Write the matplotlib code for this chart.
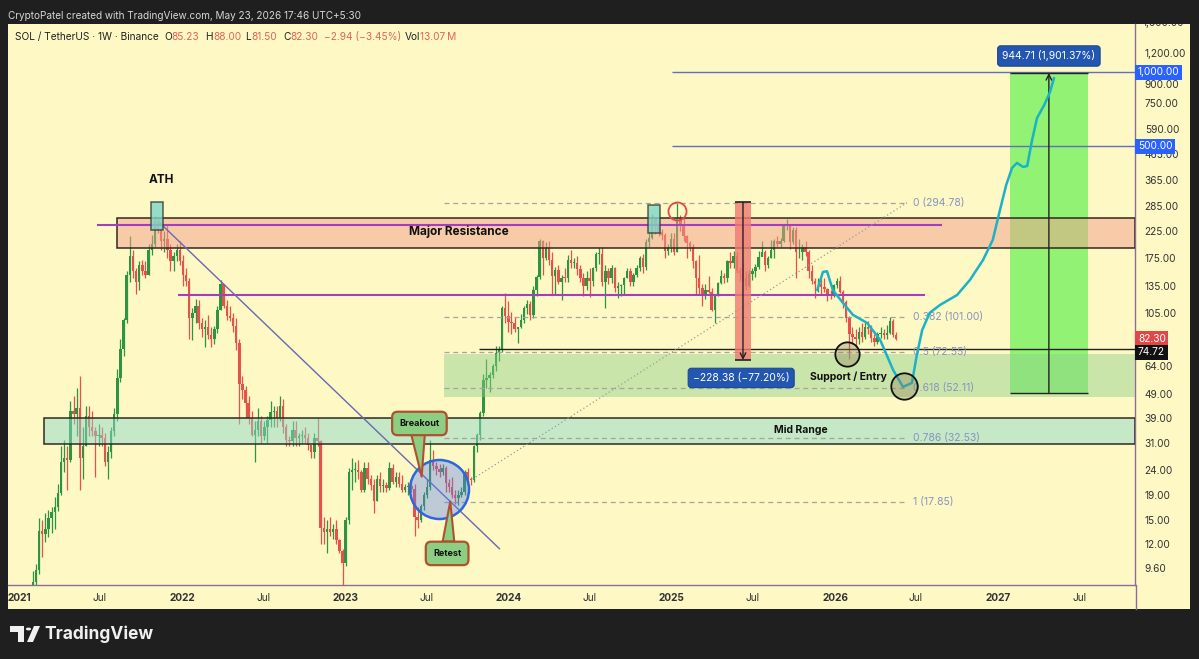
import numpy as np
import pandas as pd
import matplotlib
matplotlib.use('Agg')
import matplotlib.pyplot as plt
import matplotlib.dates as mdates
import matplotlib.transforms as mtrans
from matplotlib.patches import Rectangle, Polygon, Circle
from matplotlib.ticker import NullLocator

plt.rcParams['font.family'] = ['Inter', 'DejaVu Sans']

# ---------------- data (weekly SOL/USDT) ----------------
first_open = 1.8
# (high, low, close) per weekly candle, weeks starting Monday 2021-01-04
sol_2021 = [(3.9, 1.8, 3.4), (4.1, 2.9, 3.3), (3.9, 2.9, 3.7), (4.5, 3.3, 4.2), (9.3, 4.0, 8.4),
            (10.0, 7.6, 9.4), (15.4, 9.1, 13.6), (15.0, 10.6, 13.2), (16.0, 12.2, 13.8), (16.5, 12.8, 15.3),
            (17.0, 13.3, 16.2), (18.6, 13.8, 17.0), (21.0, 16.4, 19.4), (30.0, 19.0, 25.8), (32.0, 23.5, 27.0),
            (30.0, 20.0, 26.5), (46.0, 26.0, 42.0), (48.0, 37.0, 40.5), (52.0, 33.0, 43.0), (58.0, 20.0, 27.0),
            (36.0, 22.0, 30.0), (44.0, 30.0, 40.0), (44.0, 33.0, 36.0), (42.0, 33.0, 34.5), (36.0, 22.5, 33.0),
            (37.0, 30.0, 33.5), (36.0, 30.0, 32.5), (34.0, 25.0, 26.0), (30.0, 22.0, 28.5), (36.0, 27.0, 34.5),
            (43.0, 33.0, 40.5), (62.0, 38.0, 57.0), (82.0, 55.0, 75.0), (100.0, 70.0, 98.0), (155.0, 95.0, 150.0),
            (216.0, 140.0, 178.0), (190.0, 145.0, 155.0), (160.0, 125.0, 140.0), (170.0, 130.0, 165.0),
            (172.0, 150.0, 155.0), (170.0, 145.0, 150.0), (200.0, 150.0, 190.0), (218.0, 180.0, 200.0),
            (260.0, 195.0, 245.0), (258.0, 222.0, 228.0), (235.0, 190.0, 205.0), (225.0, 185.0, 210.0),
            (240.0, 175.0, 190.0), (200.0, 155.0, 170.0), (185.0, 155.0, 178.0), (200.0, 170.0, 190.0),
            (205.0, 165.0, 170.0)]
sol_2022 = [(180, 135, 150), (160, 135, 141), (145, 82, 100), (110, 81, 105), (120, 95, 112),
            (118, 90, 95), (100, 84, 90), (98, 76, 92), (103, 82, 85), (92, 76, 82),
            (93, 78, 90), (112, 87, 108), (143, 108, 138), (138, 110, 112), (118, 98, 102),
            (112, 97, 100), (105, 88, 93), (100, 74, 79), (82, 37, 54), (58, 47, 51),
            (53, 39, 45), (48, 37, 39), (42, 33, 33.5), (38, 26, 35), (43, 33, 38),
            (40, 31, 33), (38, 32, 36), (40, 31, 38.5), (46, 36, 41.5), (44, 36, 42),
            (44, 36, 39), (48, 38, 44), (47, 34, 36), (37, 30, 32), (33, 30, 31.5),
            (38, 30, 35), (38, 30, 32.5), (34, 30, 33), (35, 31, 33.5), (36, 31, 32.5),
            (34, 29, 30.5), (30.5, 27, 28.5), (34, 27, 32.5), (39, 30, 31.5), (32, 12, 14),
            (15.5, 12, 13.5), (15, 11, 13.8), (15.5, 13, 13.4), (14.5, 12.6, 13.8), (15, 12, 12.5),
            (12.6, 11, 11.3), (11.5, 8, 10.1)]
sol_2023 = [(15.5, 9.8, 15.0), (24.5, 14.5, 23.5), (27, 20, 24), (26, 21.5, 24), (26.5, 22, 23.5),
            (24, 19.5, 20), (26, 19.5, 24.5), (26, 21, 22), (23, 20, 20.8), (22, 16, 18),
            (23, 18, 22), (23.5, 19.5, 20.7), (22, 19.5, 20.8), (21.5, 19.5, 20.4), (26, 20, 24.5),
            (25.5, 21, 21.5), (23.5, 20.5, 22.5), (23.5, 20.5, 21), (23, 19.5, 20), (21, 19.5, 20.5),
            (21.5, 19, 20.6), (21.5, 19.5, 20.1), (21, 13, 15.5), (17, 14, 15), (17.5, 14.8, 17.2),
            (19.5, 16.5, 19), (22, 18.5, 20.5), (32, 20, 26.5), (29, 24, 25), (26, 23, 24.3),
            (25.5, 22.5, 23.5), (25.5, 23, 24.5), (25, 19.5, 21.2), (22, 19.5, 20.5), (22.5, 18.5, 19),
            (20, 17.5, 18.5), (20, 17.3, 19), (20.5, 18.6, 19.5), (24, 19, 23.5), (24.5, 21, 22),
            (22.5, 20.8, 21.8), (30.5, 21.5, 30), (34, 28.5, 33.5), (42, 32, 41), (59, 40, 56),
            (68, 52, 57), (60, 50, 58.5), (65, 57, 63.5), (77, 61, 72), (77, 67, 74),
            (112, 73, 110), (126, 95, 102)]
sol_2024 = [(117, 88, 96), (106, 86, 95), (101, 88, 90), (92, 79, 92), (104, 91, 98),
            (112, 95, 110), (118, 104, 114), (117, 98, 103), (135, 100, 130), (150, 123, 147),
            (210, 144, 205), (208, 150, 176), (204, 172, 195), (205, 165, 172), (185, 125, 148),
            (162, 125, 157), (165, 138, 140), (150, 118, 146), (160, 140, 145), (180, 140, 172),
            (190, 160, 168), (176, 160, 168), (178, 150, 158), (165, 140, 145), (152, 123, 135),
            (155, 130, 146), (160, 122, 141), (162, 135, 160), (185, 155, 182), (194, 166, 182),
            (195, 135, 140), (165, 110, 155), (160, 138, 145), (165, 139, 160), (162, 127, 133),
            (140, 121, 135), (138, 123, 136), (147, 125, 146), (160, 145, 155), (160, 135, 140),
            (152, 135, 149), (165, 147, 160), (179, 156, 175), (182, 152, 161), (210, 157, 203),
            (225, 195, 212), (264, 210, 255), (248, 220, 236), (245, 215, 223), (231, 208, 218),
            (222, 175, 188), (200, 180, 195), (222, 185, 210)]
sol_2025 = [(222, 180, 186), (295, 185, 255), (262, 225, 240), (255, 205, 215), (218, 176, 202),
            (205, 187, 195), (200, 160, 170), (172, 125, 145), (180, 125, 133), (138, 112, 125),
            (138, 120, 130), (148, 126, 128), (133, 107, 108), (125, 95, 125), (140, 123, 139),
            (157, 138, 148), (153, 139, 146), (172, 140, 171), (185, 160, 168), (188, 160, 178),
            (185, 152, 156), (162, 142, 152), (168, 141, 145), (156, 130, 135), (157, 134, 151),
            (160, 143, 155), (166, 147, 162), (187, 159, 177), (206, 178, 186), (190, 155, 164),
            (178, 160, 175), (208, 175, 190), (210, 175, 205), (215, 195, 201), (212, 195, 205),
            (242, 204, 237), (253, 228, 240), (242, 191, 204), (235, 200, 228), (235, 145, 185),
            (210, 175, 185), (200, 173, 195), (205, 178, 186), (190, 146, 156), (165, 137, 141),
            (145, 121, 137), (146, 128, 138), (145, 125, 134), (145, 128, 131), (132, 117, 125),
            (130, 119, 124), (138, 122, 136)]
sol_2026 = [(145, 133, 142), (148, 126, 128), (130, 110, 116), (118, 96, 100), (102, 68, 86),
            (92, 78, 84), (90, 76, 82), (92, 78, 88), (95, 80, 84), (96, 82, 92),
            (97, 86, 90), (94, 80, 83), (86, 77, 80), (88, 78, 86), (92, 83, 87),
            (90, 82, 85), (94, 82, 87), (101, 86, 97), (99, 84, 85.23), (88.00, 81.50, 82.30)]

fib_ratios = ['0', '0.382', '0.5', '0.618', '0.786', '1']
fib_prices = [294.78, 101.00, 72.55, 52.11, 32.53, 17.85]

resistance_zone = (192, 256)
mid_range_zone = (30.6, 39.0)
support_zone = (47.5, 71.3)
level_lines = [238, 124]
target_lines = [1000.00, 500.00]
support_line = 74.72
last_price = 82.30

drop_change, drop_pct = -228.38, -77.20      # measured fall from the top
gain_change, gain_pct = 944.71, 1901.37      # projected rise from the entry

path_dates = ['2025-11-22', '2025-12-05', '2025-12-14', '2025-12-27', '2026-01-19', '2026-02-10',
              '2026-03-14', '2026-04-12', '2026-05-11', '2026-06-02', '2026-06-22', '2026-07-03',
              '2026-07-15', '2026-08-01', '2026-08-24', '2026-10-01', '2026-10-30', '2026-11-28',
              '2026-12-20', '2027-01-05', '2027-01-19', '2027-02-01', '2027-02-12', '2027-02-26',
              '2027-03-07', '2027-03-18', '2027-03-29', '2027-04-14', '2027-04-27', '2027-05-06']
path_prices = [130, 154, 155, 130, 115, 103, 95.4, 81.4, 61.4, 52.4, 54.4, 70.7,
               89.3, 105, 113, 124, 143, 172, 208, 275, 348, 408, 428, 412,
               416, 531, 652, 736, 832, 949]

y_ticks = [9.6, 12, 15, 19, 24, 31, 39, 49, 64, 105, 135, 175, 225, 285, 365, 465, 590, 750, 900, 1200]

# ---------------- colours ----------------
BG = '#fdf8c4'
DARK = '#1f1f1f'
UP = '#2c9442'
DOWN = '#e4524a'

W, H = 1199, 659
fig = plt.figure(figsize=(W / 100, H / 100), dpi=100)
fig.patch.set_facecolor(DARK)


def fxy(px, py):
    return (px / W, 1 - py / H)


D = mdates.datestr2num
D0 = D('2021-01-01')
PXD = 0.4469  # px per day (layout of reference)

# chart panel
fig.add_artist(Rectangle(fxy(8, 609), (1190 - 8) / W, (609 - 24) / H, transform=fig.transFigure,
                         fc=BG, ec='none', zorder=0))
panel_clip = mtrans.TransformedBbox(mtrans.Bbox([[8 / W, 1 - 609 / H], [1190 / W, 1 - 24 / H]]),
                                    fig.transFigure)

ax = fig.add_axes([8 / W, 1 - 585 / H, (1135 - 8) / W, (585 - 24) / H])
ax.set_facecolor(BG)
ax.set_yscale('log')
ax.set_xlim(D0 + (8 - 19) / PXD, D0 + (1135 - 19) / PXD)
ax.set_ylim(10 ** (0.982 + (568 - 585) / 245.6), 10 ** (0.982 + (568 - 24) / 245.6))
xr = ax.get_xlim()[1]

for s in ['top', 'left']:
    ax.spines[s].set_visible(False)
for s in ['right', 'bottom']:
    ax.spines[s].set_color('#8d6c9c')
    ax.spines[s].set_linewidth(1)
fig.add_artist(plt.Line2D([1135.5 / W] * 2, [1 - 585 / H, 1 - 609 / H], color='#8d6c9c', lw=1,
                          transform=fig.transFigure))

# ---------------- candles ----------------
rows = sol_2021 + sol_2022 + sol_2023 + sol_2024 + sol_2025 + sol_2026
highs = np.array([r[0] for r in rows], float)
lows = np.array([r[1] for r in rows], float)
closes = np.array([r[2] for r in rows], float)
opens = np.concatenate([[first_open], closes[:-1]])
dates = pd.date_range('2021-01-04', periods=len(rows), freq='7D')
xs = mdates.date2num(dates.to_pydatetime())
cols = [UP if c >= o else DOWN for o, c in zip(opens, closes)]
ax.vlines(xs, lows, highs, colors=cols, lw=0.9, zorder=3)
bottoms = np.minimum(opens, closes)
heights = np.maximum(np.abs(closes - opens), bottoms * 0.008)
ax.bar(xs, heights, bottom=bottoms, width=5.4, color=cols, lw=0, zorder=3)

# ---------------- zones ----------------
x_res = D('2021-08-08')
ax.add_patch(Rectangle((x_res, resistance_zone[0]), xr - x_res, resistance_zone[1] - resistance_zone[0],
                       fc='#f29f8e', alpha=0.5, ec='none', zorder=4))
ax.add_patch(Rectangle((x_res, resistance_zone[0]), xr - x_res, resistance_zone[1] - resistance_zone[0],
                       fc='none', ec='#2e2a20', lw=1.1, zorder=4.1))
ax.text(D('2023-09-12'), 224, 'Major Resistance', ha='center', va='center', fontsize=8.5,
        fontweight='bold', color='#111', zorder=6)

x_mid = D('2021-02-26')
ax.add_patch(Rectangle((x_mid, mid_range_zone[0]), xr - x_mid, mid_range_zone[1] - mid_range_zone[0],
                       fc='#8fd9c9', alpha=0.5, ec='none', zorder=4))
ax.add_patch(Rectangle((x_mid, mid_range_zone[0]), xr - x_mid, mid_range_zone[1] - mid_range_zone[0],
                       fc='none', ec='#2e2a20', lw=1.1, zorder=4.1))
ax.text(D('2025-10-17'), 35.0, 'Mid Range', ha='center', va='center', fontsize=7.5,
        fontweight='bold', color='#111', zorder=6)

x_sup = D('2023-08-09')
ax.add_patch(Rectangle((x_sup, support_zone[0]), xr - x_sup, support_zone[1] - support_zone[0],
                       fc='#8ccf8c', alpha=0.45, ec='none', zorder=4))
ax.hlines(support_line, D('2023-10-28'), xr, color='#222', lw=1, zorder=4.2)

# purple levels
ax.hlines(level_lines[0], D('2021-06-24'), D('2026-08-28'), color='#a23fc0', lw=1.5, zorder=4.3)
ax.hlines(level_lines[1], D('2021-12-23'), D('2026-07-21'), color='#a23fc0', lw=1.5, zorder=4.3)

# target lines
for lv in target_lines:
    ax.hlines(lv, D('2025-01-01'), xr, color='#6070c0', lw=1, zorder=4.3)

# ---------------- fib retracement ----------------
fx0, fx1 = D('2023-08-09'), D('2026-06-11')
for r, p in zip(fib_ratios, fib_prices):
    ax.hlines(p, fx0, fx1, color='#a4a4a4', lw=0.9, linestyles=(0, (4, 3)), zorder=4.4)
    ax.text(D('2026-06-24'), p, f'{r} ({p:.2f})', ha='left', va='center', fontsize=7.5,
            color='#8793c0', zorder=6)
ax.plot([D('2023-10-13'), D('2026-06-11')], [22.1, fib_prices[0]], color='#9a9a9a', lw=0.9,
        ls=(0, (1, 2)), zorder=4.4)

# downtrend line
ax.plot([D('2021-11-12'), D('2023-12-12')], [244, 11.5], color='#6a68b0', lw=1, zorder=4.5)

# ATH box and text
ax.add_patch(Rectangle((D('2021-10-23'), 228), D('2021-11-19') - D('2021-10-23'), 297 - 228,
                       fc='#7fd6c8', alpha=0.8, ec='#2a3a30', lw=1.1, zorder=5))
ax.text(D('2021-11-15'), 365, 'ATH', ha='center', va='center', fontsize=8.5, fontweight='bold',
        color='#111', zorder=6)
ax.add_patch(Rectangle((D('2024-11-08'), 222), D('2024-12-05') - D('2024-11-08'), 288 - 222,
                       fc='#7fd6c8', alpha=0.8, ec='#2a3a30', lw=1.1, zorder=5))
ax.plot([D('2025-01-12')], [272.7], marker='o', ms=13, mfc='none', mec='#e04a4a', mew=1.3, zorder=6)

# breakout circle
ax.plot([D('2023-07-29')], [20.1], marker='o', ms=42.5, mfc=(0.35, 0.5, 0.95, 0.38),
        mec='#2e66e0', mew=1.8, zorder=5)

# callouts (speech bubbles): label, box centre, pointer base (left, right), tip
callouts = [('Breakout', ('2023-06-16', 37.2), ('2023-05-29', '2023-06-28', 33.4), ('2023-06-21', 22.6)),
            ('Retest', ('2023-08-17', 11.0), ('2023-08-07', '2023-09-02', 12.3), ('2023-08-24', 17.9))]
for txt, (bx, by), (bl, br, bp), (tx, ty) in callouts:
    ax.add_patch(Polygon([(D(bl), bp), (D(tx), ty), (D(br), bp)], closed=True, fc='#8dcf82',
                         ec='#b0502e', lw=1.5, joinstyle='round', zorder=6.8))
    ax.text(D(bx), by, txt, ha='center', va='center', fontsize=6.5, fontweight='bold', color='#111',
            zorder=7, bbox=dict(boxstyle='round,pad=0.8,rounding_size=0.6', fc='#8dcf82', ec='#b0502e',
                                lw=1.6))

# drop measurement
drop_top = -drop_change / (-drop_pct / 100)
drop_bottom = drop_top + drop_change
m0, m1 = D('2025-05-22'), D('2025-06-27')
mc = (m0 + m1) / 2
ax.add_patch(Rectangle((m0, drop_bottom), m1 - m0, drop_top - drop_bottom, fc='#f07a72', alpha=0.8,
                       ec='none', zorder=5))
ax.hlines([drop_top, drop_bottom], m0, m1, color='#222', lw=1.2, zorder=5.1)
ax.annotate('', xy=(mc, drop_bottom), xytext=(mc, drop_top),
            arrowprops=dict(arrowstyle='->', color='#222', lw=1, shrinkA=0, shrinkB=0), zorder=5.2)
ax.text(D('2025-06-05'), 57.0, f'\u2212{-drop_change:.2f} (\u2212{-drop_pct:.2f}%)',
        ha='center', va='center', fontsize=7.5, color='white', zorder=7,
        bbox=dict(boxstyle='round,pad=0.45,rounding_size=0.3', fc='#2356b0', ec='#1b4896', lw=0.8))

# target measurement
target_bottom = gain_change / (gain_pct / 100)
target_top = target_bottom + gain_change
t0, t1 = D('2027-01-27'), D('2027-07-21')
tc = (t0 + t1) / 2
ax.add_patch(Rectangle((t0, target_bottom), t1 - t0, target_top - target_bottom, fc='#6ef05a', alpha=0.75,
                       ec='none', zorder=2))
ax.hlines([target_bottom, target_top], t0, t1, color='#222', lw=1, zorder=5.1)
ax.annotate('', xy=(tc, target_top), xytext=(tc, target_bottom),
            arrowprops=dict(arrowstyle='->', color='#222', lw=1, shrinkA=0, shrinkB=0), zorder=5.2)
ax.text(tc, 1166, f'{gain_change:.2f} ({gain_pct:,.2f}%)', ha='center', va='center',
        fontsize=7.5, color='white', zorder=7,
        bbox=dict(boxstyle='round,pad=0.45,rounding_size=0.3', fc='#2356b0', ec='#1b4896', lw=0.8))

# projection path
ax.plot([D(d) for d in path_dates], path_prices, color='#1ab2c8', lw=1.8, zorder=6,
        solid_capstyle='round', solid_joinstyle='round')

# support / entry circles
ax.plot([D('2026-01-28')], [71.3], marker='o', ms=17.5, mfc=(0.55, 0.5, 0.35, 0.35), mec='#111',
        mew=1.3, zorder=6.5)
ax.plot([D('2026-06-04')], [52.8], marker='o', ms=19, mfc=(0.55, 0.5, 0.35, 0.35), mec='#111',
        mew=1.3, zorder=6.5)
ax.text(D('2026-02-01'), 57.5, 'Support / Entry', ha='center', va='center', fontsize=7.5,
        fontweight='bold', color='#111', zorder=7)

# ---------------- axes ----------------
ax.yaxis.tick_right()
ax.yaxis.set_minor_locator(NullLocator())
ax.set_yticks(y_ticks)
ax.set_yticklabels([f'{t:,.2f}' for t in y_ticks])
ax.tick_params(axis='y', length=0, pad=7, labelsize=7.3, labelcolor='#333333')
t1600 = fig.text(*fxy(1143, 23.5), '1,600.00', fontsize=7.3, color='#333333', ha='left', va='center')
t1600.set_clip_box(panel_clip)
t1600.set_clip_on(True)

xt, xl = [], []
for yr in range(2021, 2028):
    xt += [D(f'{yr}-01-01'), D(f'{yr}-07-01')]
    xl += [str(yr), 'Jul']
ax.set_xticks(xt)
ax.set_xticklabels(xl)
ax.xaxis.set_minor_locator(NullLocator())
ax.tick_params(axis='x', length=0, pad=6, labelsize=7.3, labelcolor='#333333')
for lab in ax.get_xticklabels():
    if lab.get_text() != 'Jul':
        lab.set_fontweight('bold')

# price-axis labels
ytr = mtrans.blended_transform_factory(ax.transAxes, ax.transData)
ax_lab_x = (1138 - 8) / (1135 - 8)
for lv, txt in zip(target_lines, ['1,000.00', '500.00']):
    ax.text(ax_lab_x, lv, txt, transform=ytr, ha='left', va='center', fontsize=7.3, color='white',
            clip_on=False, zorder=8,
            bbox=dict(boxstyle='square,pad=0.25', fc='#2962ff', ec='none'))
ax.text(ax_lab_x, last_price, f'{last_price:.2f}', transform=ytr, ha='left', va='center', fontsize=7.3,
        color='white', clip_on=False, zorder=8, bbox=dict(boxstyle='square,pad=0.25', fc='#e04848', ec='none'))
ax.text(ax_lab_x, support_line, f'{support_line:.2f}',
        transform=mtrans.offset_copy(ytr, fig=fig, x=0, y=-3, units='dots'),
        ha='left', va='center', fontsize=7.3, color='white', clip_on=False, zorder=8,
        bbox=dict(boxstyle='square,pad=0.25', fc='#111111', ec='none'))

# ---------------- header texts ----------------
fig.text(*fxy(8, 16), 'CryptoPatel created with TradingView.com, May 23, 2026 17:46 UTC+5:30',
         color='#d6d6d6', fontsize=7.2, va='center', ha='left', zorder=6)
hdr_red = '#e0635a'
hdr = [(15, 'SOL / TetherUS \u00b7 1W \u00b7 Binance', '#222222'),
       (164, 'O', '#222222'), (171.5, '85.23', hdr_red),
       (205, 'H', '#222222'), (213, '88.00', hdr_red),
       (245, 'L', '#222222'), (251, '81.50', hdr_red),
       (283, 'C', '#222222'), (290, '82.30', hdr_red),
       (324, '\u22122.94 (\u22123.45%)', hdr_red),
       (405, 'Vol', '#222222'), (420, '13.07\u2009M', hdr_red)]
for px, t, c in hdr:
    fig.text(*fxy(px, 37), t, color=c, fontsize=7.3, va='center', ha='left', family=['Inter', 'DejaVu Sans'])

# ---------------- footer logo ----------------
fig.add_artist(Polygon([fxy(10, 626), fxy(24, 626), fxy(24, 642), fxy(18, 642), fxy(18, 632), fxy(10, 632)],
                       closed=True, transform=fig.transFigure, fc='#f0f0f0', ec='none'))
fig.add_artist(Circle(fxy(28.5, 629), 2.6 / W, transform=fig.transFigure, fc='#f0f0f0', ec='none'))
fig.add_artist(Polygon([fxy(34, 626), fxy(40, 626), fxy(33, 642), fxy(27, 642)],
                       closed=True, transform=fig.transFigure, fc='#f0f0f0', ec='none'))
fig.text(*fxy(44, 634), 'TradingView', color='#f0f0f0', fontsize=12.5, fontweight='bold', va='center',
         ha='left')

fig.savefig('out.png', dpi=100, facecolor=fig.get_facecolor())
